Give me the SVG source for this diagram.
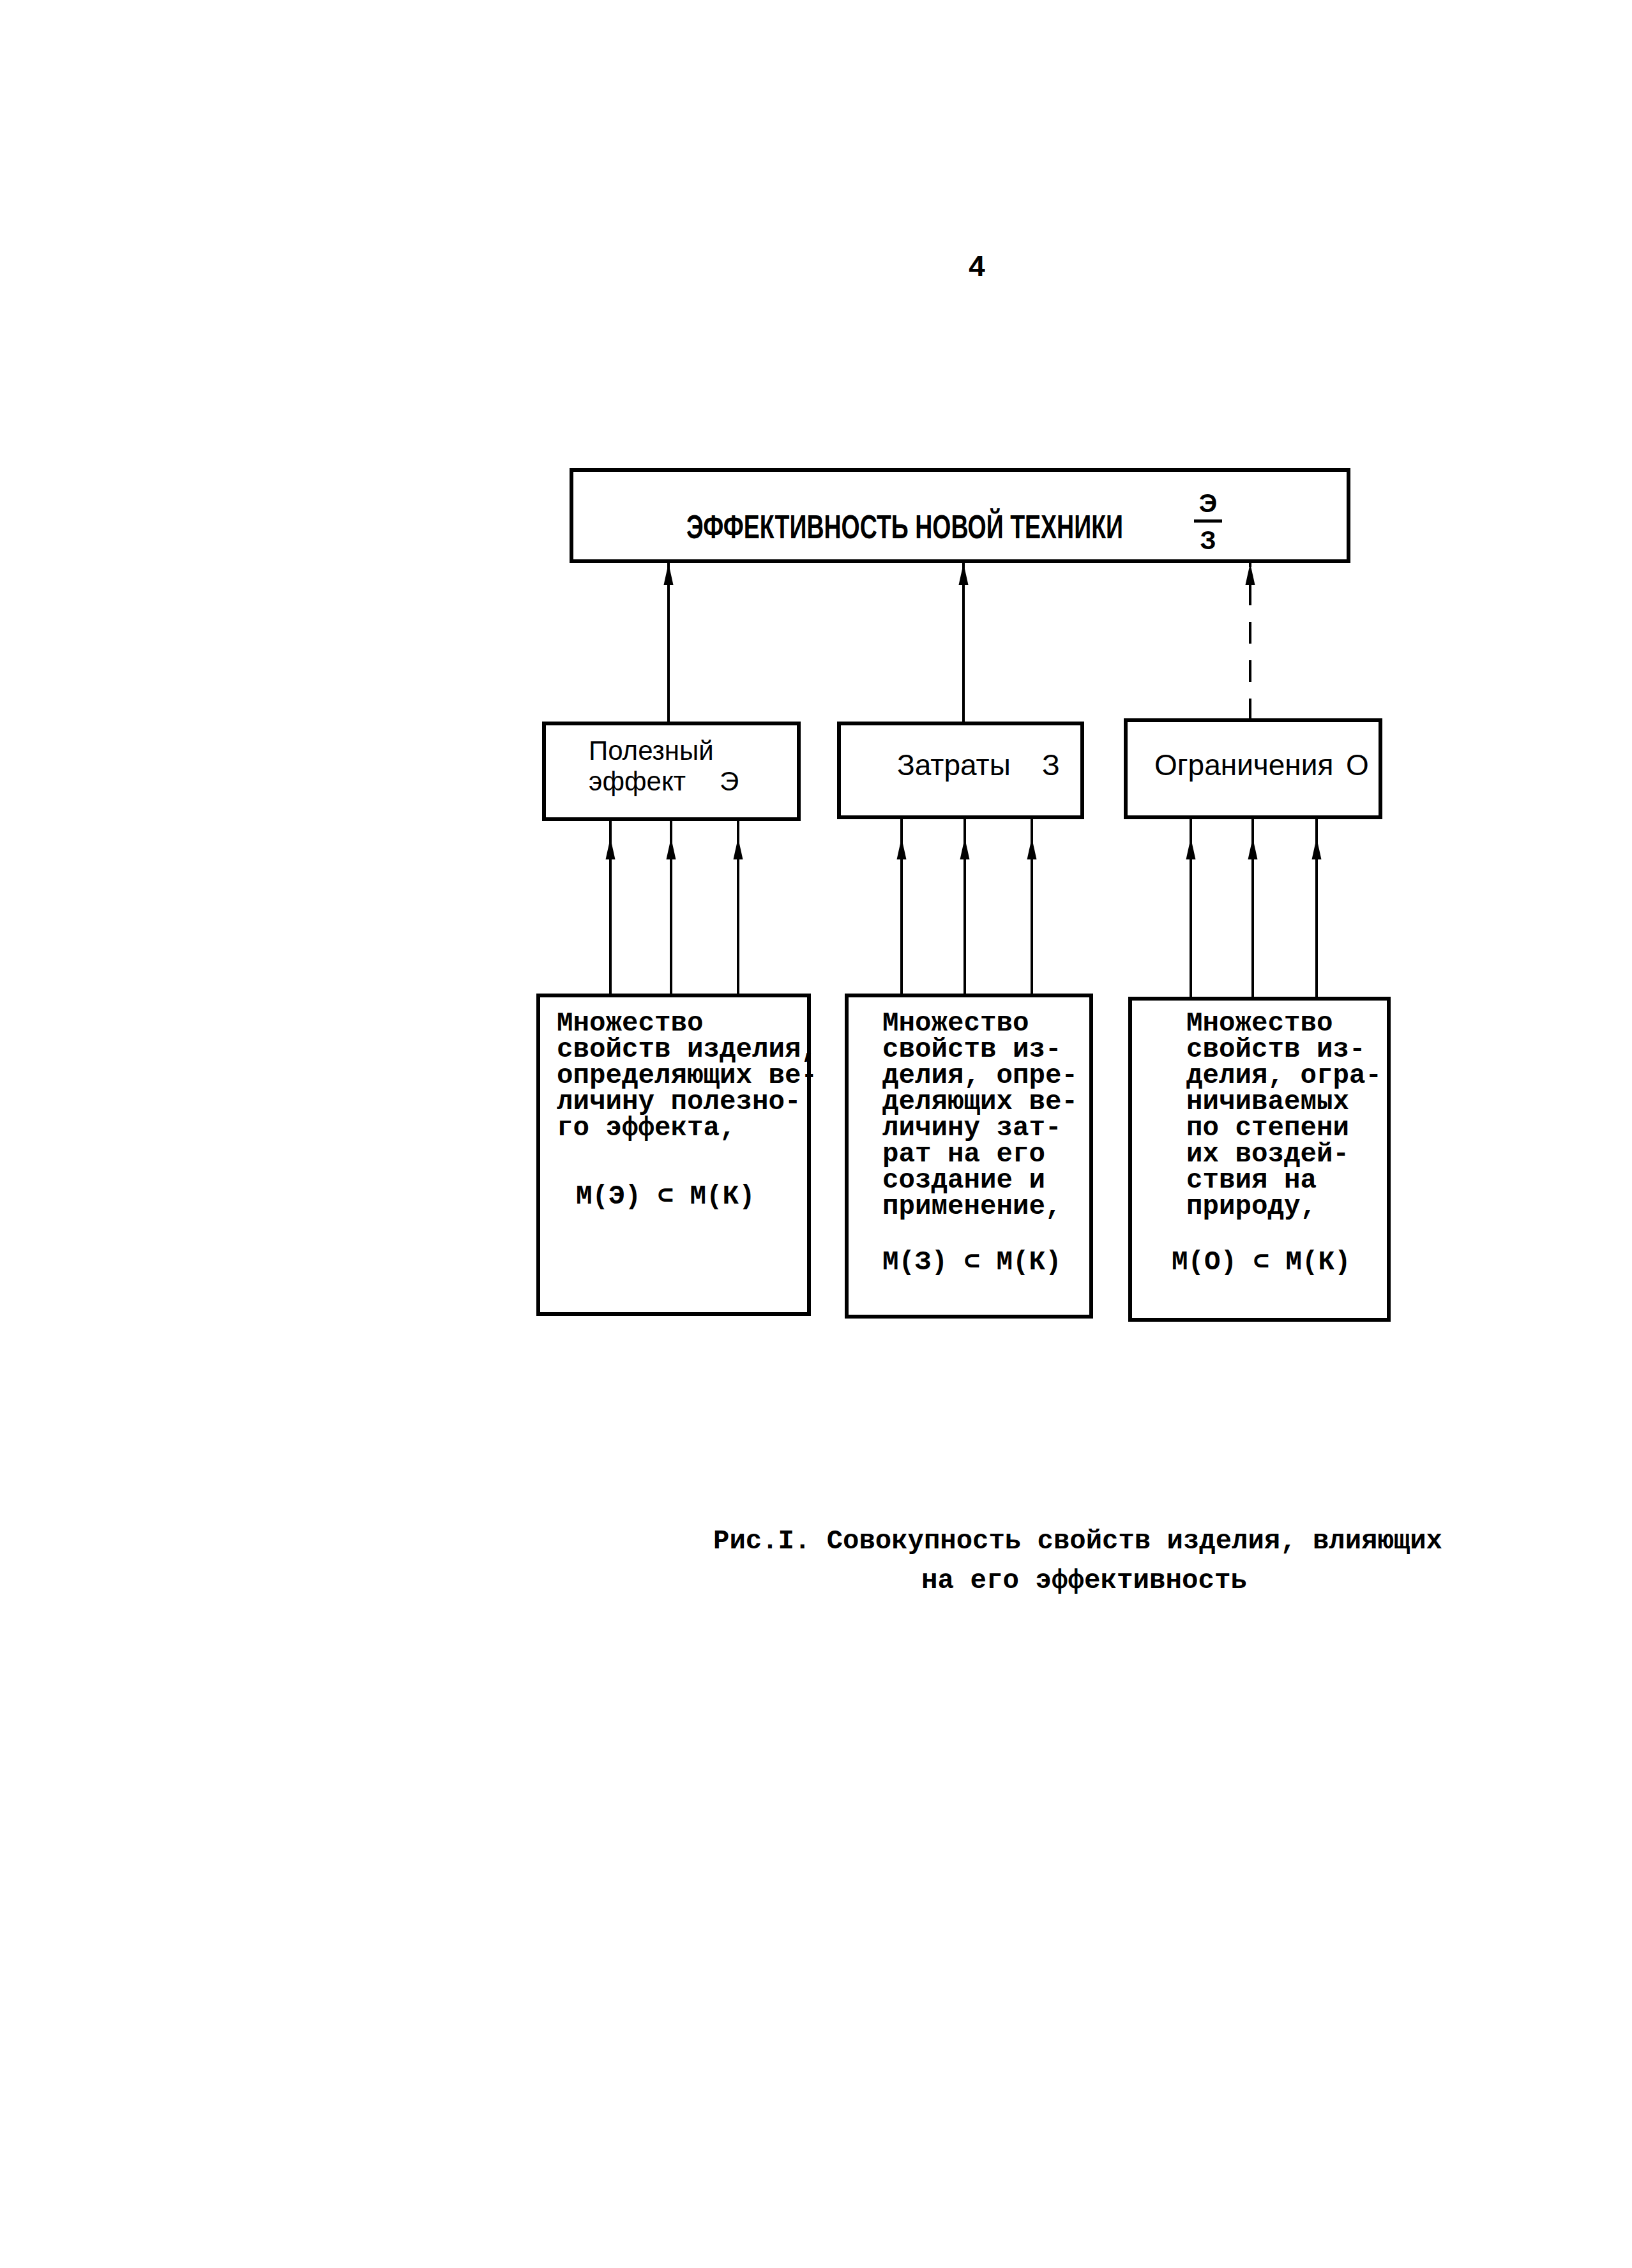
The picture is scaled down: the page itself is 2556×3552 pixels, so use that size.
<svg xmlns="http://www.w3.org/2000/svg" width="2556" height="3552" viewBox="0 0 2556 3552">
<style>
.box{fill:none;stroke:#000;stroke-width:6}
.con{fill:none;stroke:#000;stroke-width:4}
.dash{stroke-dasharray:34 26}
.mono{font-family:"Liberation Mono","DejaVu Sans Mono",monospace;font-weight:bold;font-size:42.5px;fill:#000}
.sans{font-family:"Liberation Sans","DejaVu Sans",sans-serif;font-size:46px;fill:#000}
.sans2{font-family:"Liberation Sans","DejaVu Sans",sans-serif;font-size:42px;fill:#000}
.title{font-family:"Liberation Sans","DejaVu Sans",sans-serif;font-weight:bold;font-size:52px;fill:#000}
.frac{font-family:"Liberation Sans","DejaVu Sans",sans-serif;font-weight:bold;font-size:40px;fill:#000}
.cap{font-family:"Liberation Mono","DejaVu Sans Mono",monospace;font-weight:bold;font-size:42.5px;fill:#000}
</style>
<defs>
<marker id="ah" markerUnits="userSpaceOnUse" markerWidth="36" markerHeight="18" refX="34" refY="9" orient="auto" viewBox="0 0 36 18">
<path d="M0,1.5 L34,9 L0,16.5 Z" fill="#000"/>
</marker>
</defs>
<rect width="2556" height="3552" fill="#fff"/>
<text class="mono" x="1530" y="432" text-anchor="middle" style="font-size:46px">4</text>

<g id="top">
<rect class="box" x="895" y="736" width="1217" height="143"/>
<text class="title" transform="translate(1075,843) scale(0.72,1)" x="0" y="0" textLength="950" lengthAdjust="spacingAndGlyphs">ЭФФЕКТИВНОСТЬ НОВОЙ ТЕХНИКИ</text>
<text class="frac" x="1892" y="802" text-anchor="middle">Э</text>
<line x1="1870" y1="816" x2="1914" y2="816" stroke="#000" stroke-width="5"/>
<text class="frac" x="1892" y="860" text-anchor="middle">З</text>
</g>

<g id="effect">
<rect class="box" x="852" y="1133" width="399" height="150"/>
<text class="sans2" x="922" y="1190">Полезный</text>
<text class="sans2" x="922" y="1238">эффект</text>
<text class="sans2" x="1127" y="1238">Э</text>
</g>

<g id="costs">
<rect class="box" x="1314" y="1133" width="381" height="147"/>
<text class="sans" x="1405" y="1214">Затраты</text>
<text class="sans" x="1632" y="1214">З</text>
</g>

<g id="limits">
<rect class="box" x="1763" y="1128" width="399" height="152"/>
<text class="sans" x="1808" y="1214">Ограничения</text>
<text class="sans" x="2108" y="1214">О</text>
</g>

<g id="set-effect">
<rect class="box" x="843" y="1559" width="424" height="499"/>
<text class="mono" x="872" y="1614">Множество</text>
<text class="mono" x="872" y="1655">свойств изделия,</text>
<text class="mono" x="872" y="1696">определяющих ве-</text>
<text class="mono" x="872" y="1737">личину полезно-</text>
<text class="mono" x="872" y="1778">го эффекта,</text>
<text class="mono" x="902" y="1885">М(Э) ⊂ М(К)</text>
</g>

<g id="set-costs">
<rect class="box" x="1326" y="1559" width="383" height="503"/>
<text class="mono" x="1382" y="1614">Множество</text>
<text class="mono" x="1382" y="1655">свойств из-</text>
<text class="mono" x="1382" y="1696">делия, опре-</text>
<text class="mono" x="1382" y="1737">деляющих ве-</text>
<text class="mono" x="1382" y="1778">личину зат-</text>
<text class="mono" x="1382" y="1819">рат на его</text>
<text class="mono" x="1382" y="1860">создание и</text>
<text class="mono" x="1382" y="1901">применение,</text>
<text class="mono" x="1382" y="1988">М(З) ⊂ М(К)</text>
</g>

<g id="set-limits">
<rect class="box" x="1770" y="1564" width="405" height="503"/>
<text class="mono" x="1858" y="1614">Множество</text>
<text class="mono" x="1858" y="1655">свойств из-</text>
<text class="mono" x="1858" y="1696">делия, огра-</text>
<text class="mono" x="1858" y="1737">ничиваемых</text>
<text class="mono" x="1858" y="1778">по степени</text>
<text class="mono" x="1858" y="1819">их воздей-</text>
<text class="mono" x="1858" y="1860">ствия на</text>
<text class="mono" x="1858" y="1901">природу,</text>
<text class="mono" x="1835" y="1988">М(О) ⊂ М(К)</text>
</g>

<g id="connectors">
<path class="con" d="M1047,1133 L1047,882" marker-end="url(#ah)"/>
<path class="con" d="M1509,1133 L1509,882" marker-end="url(#ah)"/>
<path class="con dash" d="M1958,1128 L1958,882" marker-end="url(#ah)"/>
<path class="con" d="M956,1559 L956,1312 L956,1283" marker-mid="url(#ah)"/>
<path class="con" d="M1051,1559 L1051,1312 L1051,1283" marker-mid="url(#ah)"/>
<path class="con" d="M1156,1559 L1156,1312 L1156,1283" marker-mid="url(#ah)"/>
<path class="con" d="M1412,1559 L1412,1312 L1412,1280" marker-mid="url(#ah)"/>
<path class="con" d="M1511,1559 L1511,1312 L1511,1280" marker-mid="url(#ah)"/>
<path class="con" d="M1616,1559 L1616,1312 L1616,1280" marker-mid="url(#ah)"/>
<path class="con" d="M1865,1564 L1865,1312 L1865,1280" marker-mid="url(#ah)"/>
<path class="con" d="M1962,1564 L1962,1312 L1962,1280" marker-mid="url(#ah)"/>
<path class="con" d="M2062,1564 L2062,1312 L2062,1280" marker-mid="url(#ah)"/>
</g>

<g id="caption">
<text class="cap" x="1117" y="2425" textLength="1142" lengthAdjust="spacingAndGlyphs">Рис.I. Совокупность свойств изделия, влияющих</text>
<text class="cap" x="1443" y="2487" textLength="510" lengthAdjust="spacingAndGlyphs">на его эффективность</text>
</g>
</svg>
